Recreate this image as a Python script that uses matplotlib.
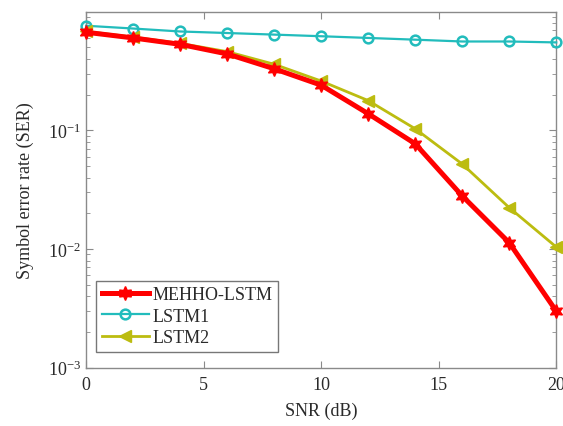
#!/usr/bin/env python3

# SER vs SNR for the three detectors

import matplotlib
matplotlib.use('Agg')
import matplotlib.pyplot as plt
from matplotlib.ticker import LogLocator, NullFormatter, MultipleLocator, FixedLocator

snr = [0, 2, 4, 6, 8, 10, 12, 14, 16, 18, 20]
ser_mehho = [0.67, 0.60, 0.53, 0.44, 0.33, 0.24, 0.138, 0.077, 0.028, 0.0113, 0.0030]
ser_lstm1 = [0.76, 0.72, 0.68, 0.66, 0.64, 0.62, 0.60, 0.58, 0.56, 0.56, 0.55]
ser_lstm2 = [0.68, 0.61, 0.54, 0.46, 0.36, 0.26, 0.178, 0.103, 0.052, 0.0223, 0.0104]

labels = ['MEHHO-LSTM', 'LSTM1', 'LSTM2']
y_ticks = [1e-3, 1e-2, 1e-1]
y_ticklabels = [r'$10^{-3}$', r'$10^{-2}$', r'$10^{-1}$']


def main():

  plt.rcParams['font.family'] = 'Liberation Serif'
  plt.rcParams['mathtext.fontset'] = 'custom'
  plt.rcParams['mathtext.rm'] = 'Liberation Serif'
  plt.rcParams['mathtext.it'] = 'Liberation Serif:italic'

  red = '#ff0000'
  cyan = '#22bcbc'
  olive = '#bcbc10'
  axis_gray = '#8a8a8a'
  text_col = '#2a2a2a'

  fig = plt.figure(figsize=(5.63, 4.27), dpi=100)
  ax = fig.add_axes([0.153, 0.1365, 0.835, 0.834])

  ax.semilogy(snr, ser_mehho, color=red, lw=3.6, marker=(6, 1, 0), ms=10,
              mfc=red, mec=red, label=labels[0], clip_on=False, zorder=4)
  ax.semilogy(snr, ser_lstm1, color=cyan, lw=1.6, marker='o', ms=7,
              mfc='none', mec=cyan, mew=1.8, label=labels[1], clip_on=False, zorder=3)
  ax.semilogy(snr, ser_lstm2, color=olive, lw=2.0, marker='<', ms=9,
              mfc=olive, mec=olive, label=labels[2], clip_on=False, zorder=3)

  ax.set_xlim(0, 20)
  ax.set_ylim(1e-3, 1)
  ax.xaxis.set_major_locator(MultipleLocator(5))
  ax.yaxis.set_major_locator(FixedLocator(y_ticks))
  ax.set_yticklabels(y_ticklabels)
  ax.yaxis.set_minor_locator(LogLocator(base=10, subs=range(2, 10), numticks=20))
  ax.yaxis.set_minor_formatter(NullFormatter())

  ax.tick_params(which='both', direction='in', top=True, right=True,
                 colors=axis_gray, labelcolor=text_col, labelsize=13)
  ax.tick_params(which='major', length=5)
  ax.tick_params(which='minor', length=3)
  ax.tick_params(axis='x', pad=6)
  for sp in ax.spines.values():
    sp.set_color(axis_gray)
    sp.set_linewidth(1.0)

  ax.set_xlabel('SNR (dB)', fontsize=13, color=text_col, labelpad=6)
  ax.set_ylabel('Symbol error rate (SER)', fontsize=13, color=text_col, labelpad=10)

  leg = ax.legend(loc='lower left', bbox_to_anchor=(0.022, 0.045),
                  borderaxespad=0, fancybox=False, fontsize=13,
                  handlelength=2.6, handletextpad=0.2, labelspacing=0.25,
                  borderpad=0.3)
  leg.get_frame().set_edgecolor('#555555')
  leg.get_frame().set_linewidth(1.0)
  for t in leg.get_texts():
    t.set_color(text_col)

  fig.savefig('out.png', dpi=100)


if __name__ == '__main__':
  main()
